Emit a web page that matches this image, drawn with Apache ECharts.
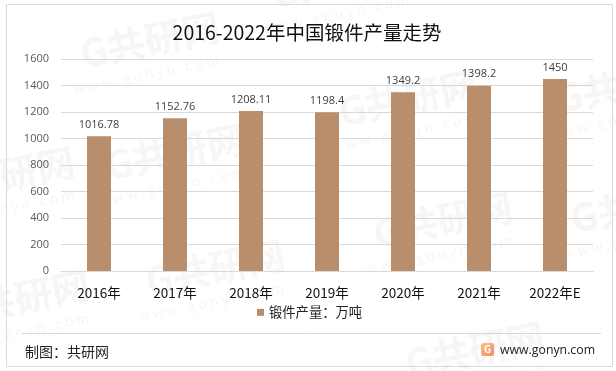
<!DOCTYPE html>
<html><head><meta charset="utf-8">
<style>html,body{margin:0;padding:0;background:#fff}#c{width:616px;height:371px}</style>
<script src="https://cdn.jsdelivr.net/npm/echarts@6/dist/echarts.min.js"></script>
</head><body><div id="c"></div>
<script>
const categories=['2016年','2017年','2018年','2019年','2020年','2021年','2022年E'];
const values=[1016.78,1152.76,1208.11,1198.4,1349.2,1398.2,1450];
const valueLabels=['1016.78','1152.76','1208.11','1198.4','1349.2','1398.2','1450'];
const seriesName='锻件产量\uFF1A万吨';
const titleText='2016-2022年中国锻件产量走势';
const sourceText='制图\uFF1A共研网';
const siteText='www.gonyn.com';
const font='"Noto Sans CJK SC","Noto Sans",sans-serif';
const numFont='"Open Sans","Noto Sans CJK SC",sans-serif';
const marks=[[150,40],[175,152],[215,268],[408,98],[443,220],[475,350],[340,-20],[625,85],[20,298],[640,205],[5,175]];
const wm=[];
marks.forEach(([x,y])=>{
  wm.push({type:'text',x:x,y:y,rotation:0.2,z:-1,silent:true,style:{text:'G共研网',font:'bold 38px '+font,fill:'#f6f6f6',align:'center',verticalAlign:'middle'}});
  wm.push({type:'text',x:x-4,y:y+34,rotation:0.2,z:-1,silent:true,style:{text:'w w w . g o n y n . c o m',font:'14px '+font,fill:'#f6f6f6',align:'center',verticalAlign:'middle'}});
});
const chart=echarts.init(document.getElementById('c'),null,{renderer:'canvas'});
chart.setOption({
  animation:false,
  backgroundColor:'#fff',
  title:{text:titleText,left:302,top:18,textAlign:'center',textStyle:{fontFamily:font,fontSize:19.5,fontWeight:'normal',color:'#111'}},
  grid:{left:61,right:23,top:59,bottom:100,containLabel:false},
  legend:{bottom:47,left:252,itemWidth:7,itemHeight:7,itemGap:3,icon:'rect',textStyle:{fontFamily:font,fontSize:13.3,color:'#222'},data:[seriesName]},
  xAxis:{type:'category',data:categories,axisTick:{show:false},axisLine:{lineStyle:{color:'#d9d9d9',width:1}},
    axisLabel:{margin:15,fontFamily:font,fontSize:13.5,color:'#111'}},
  yAxis:{type:'value',min:0,max:1600,interval:200,axisLine:{show:false},axisTick:{show:false},
    splitLine:{lineStyle:{color:'#d9d9d9',width:1}},axisLabel:{margin:12,fontFamily:numFont,fontSize:11,color:'#595959',formatter:v=>String(v)}},
  series:[{name:seriesName,type:'bar',data:values,barWidth:24,itemStyle:{color:'#b98e6c'},
    label:{show:true,position:'top',distance:6,fontFamily:numFont,fontSize:11,color:'#404040',
      formatter:p=>valueLabels[p.dataIndex]}}],
  graphic:[
    ...wm,
    {type:'rect',silent:true,shape:{x:6.5,y:4.5,width:606,height:362},style:{fill:'none',stroke:'#d9d9d9',lineWidth:1}},
    {type:'line',silent:true,shape:{x1:22,y1:333.5,x2:601,y2:333.5},style:{stroke:'#d9d9d9',lineWidth:1}},
    {type:'text',x:25,y:352,style:{text:sourceText,font:'14px '+font,fill:'#222',verticalAlign:'middle'}},
    {type:'rect',silent:true,shape:{x:481,y:343,width:13,height:13,r:2},style:{fill:new echarts.graphic.LinearGradient(0,0,1,1,[{offset:0,color:'#f9c27c'},{offset:1,color:'#f08a6c'}])}},
    {type:'text',x:487.5,y:349.5,silent:true,style:{text:'G',font:'bold 10px '+font,fill:'#fff',align:'center',verticalAlign:'middle'}},
    {type:'text',x:500,y:350,style:{text:siteText,font:'12.3px '+numFont,fill:'#222',verticalAlign:'middle'}}
  ]
});
</script></body></html>
